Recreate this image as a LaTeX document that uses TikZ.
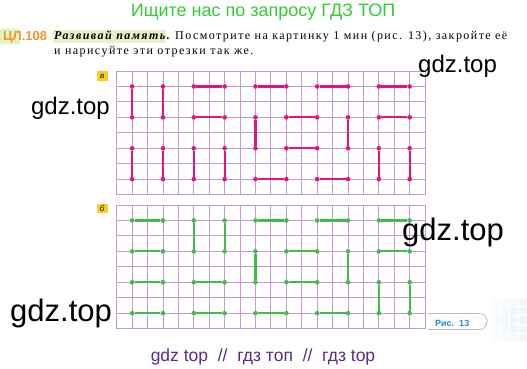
\documentclass[tikz,border=0pt]{standalone}
\usepackage{fontspec}
\setmainfont{Liberation Serif}
\newfontfamily\sansf{Liberation Sans}
\newfontfamily\spacedf{Liberation Serif}[LetterSpace=12]
\definecolor{titlegreen}{HTML}{33CC33}
\definecolor{gridc}{HTML}{C39AD6}
\definecolor{pinkc}{HTML}{E2157C}
\definecolor{greenc}{HTML}{45B94A}
\definecolor{orangec}{HTML}{F0962A}
\definecolor{hlc}{HTML}{E8F0C6}
\definecolor{purplec}{HTML}{5B2A8C}
\definecolor{bluec}{HTML}{1E8FD8}
\definecolor{yelc}{HTML}{F7D117}
\definecolor{paleblue}{HTML}{E6F0FA}
\tikzset{
  gridline/.style={draw=gridc, line width=0.85pt},
  dotA/.style={circle, fill=pinkc, inner sep=0pt, minimum size=4.6pt},
  dotB/.style={circle, fill=greenc, inner sep=0pt, minimum size=4.6pt},
  segA/.style={draw=pinkc, line width=2.2pt},
  segB/.style={draw=greenc, line width=2.2pt},
  lbl/.style={fill=yelc, inner sep=0pt, minimum width=11pt, minimum height=9.5pt, font=\sansf\itshape\fontsize{8}{8}\selectfont},
  wmark/.style={font=\sansf\fontsize{24}{24}\selectfont, text=black, inner sep=0pt},
  wbig/.style={wmark, font=\sansf\fontsize{31}{31}\selectfont},
}
\begin{document}
\begin{tikzpicture}[x=1pt,y=-1pt]
\useasboundingbox (0,0) rectangle (527,369);
\fill[white] (0,0) rectangle (527,369);
\def\gx{116.7}\def\gdx{15.42}\def\gdy{15.45}
% faint decorative squares, bottom right
\foreach \i in {0,...,3}{
  \foreach \j in {0,...,4}{
    \pgfmathsetmacro{\op}{0.15+0.12*\i+0.08*(2-abs(\j-2))}
    \fill[paleblue, opacity=\op] (492+\i*9,298+\j*9) rectangle ++(7.5,7.5);
  }
}
% title
\node[text=titlegreen, font=\sansf\fontsize{18}{20}\selectfont] (title) at (263,12.5) {Ищите нас по запросу ГДЗ ТОП};
% exercise heading
\draw[draw=hlc!70!olive!60, fill=hlc, rounded corners=3pt] (0,29) rectangle (20,44);
\node[anchor=base west, inner sep=0pt, text=orangec, font=\sansf\bfseries\fontsize{13}{13}\selectfont] (num) at (3,41) {ЦЛ.108};
\fill[hlc] (53,30) rectangle (166,43);
\node[anchor=base west, inner sep=0pt, font=\spacedf\bfseries\itshape\fontsize{12}{12}\selectfont] (hl) at (54,40) {Развивай память.};
\node[anchor=base west, inner sep=0pt, font=\spacedf\fontsize{12}{12}\selectfont] (l1) at (175,40) {Посмотрите на картинку 1 мин (рис. 13), закройте её};
\node[anchor=base west, inner sep=0pt, font=\spacedf\fontsize{12}{12}\selectfont] (l2) at (54,55) {и нарисуйте эти отрезки так же.};
% grids
\foreach \gy in {71,205}{
  \foreach \i in {0,...,20} \draw[gridline] (\gx+\i*\gdx,\gy) -- (\gx+\i*\gdx,\gy+8*\gdy);
  \foreach \j in {0,...,8} \draw[gridline] (\gx,\gy+\j*\gdy) -- (\gx+20*\gdx,\gy+\j*\gdy);
}
\foreach \i in {1,3,...,19}{
  \foreach \j in {1,3,5,7}{
    \node[dotA] (a-\i-\j) at (\gx+\i*\gdx, 71+\j*\gdy) {};
    \node[dotB] (b-\i-\j) at (\gx+\i*\gdx, 205+\j*\gdy) {};
  }
}
\foreach \p/\q in {1-1/1-3, 3-1/3-3, 1-5/1-7, 3-5/3-7,
                   5-1/7-1, 5-3/7-3, 5-5/5-7, 7-5/7-7,
                   9-1/11-1, 9-3/9-5, 9-7/11-7, 11-3/13-3, 11-5/13-5,
                   13-1/15-1, 15-3/15-5, 13-7/15-7,
                   17-1/19-1, 17-3/19-3, 17-5/17-7, 19-5/19-7}
  \draw[segA] (a-\p) -- (a-\q);
\foreach \p/\q in {1-1/3-1, 1-3/3-3, 1-5/3-5, 1-7/3-7,
                   5-1/5-3, 7-1/7-3, 5-5/7-5, 5-7/7-7,
                   9-1/11-1, 9-3/9-5, 9-7/11-7, 11-3/13-3, 11-5/13-5,
                   13-1/15-1, 15-3/15-5, 13-7/15-7,
                   17-1/19-1, 17-3/19-3, 17-5/17-7, 19-5/19-7}
  \draw[segB] (b-\p) -- (b-\q);
% labels
\node[lbl] (la) at (102,76) {а};
\node[lbl] (lb) at (102,208.5) {б};
% figure caption
\draw[draw=gray!55, line width=0.7pt, rounded corners=7.5pt] (428,313.5) -- (487,313.5) -- (487,329.5) -- (428,329.5);
\node[anchor=base west, inner sep=0pt, text=bluec, font=\sansf\bfseries\fontsize{9}{9}\selectfont] (ris) at (435,326) {Рис.\hspace{5pt}13};
% watermarks
\node[wmark, anchor=base west] (w1) at (418,73) {gdz.top};
\node[wmark, anchor=base east] (w2) at (110,114) {gdz.top};
\node[wbig, anchor=base west] (w3) at (402,240) {gdz.top};
\node[wbig, anchor=base west] (w4) at (10,321) {gdz.top};
% footer
\node[anchor=base, text=purplec, font=\sansf\fontsize{17.5}{17.5}\selectfont] (foot) at (263,361) {gdz top \;//\; гдз топ \;//\; гдз top};
\end{tikzpicture}
\end{document}
